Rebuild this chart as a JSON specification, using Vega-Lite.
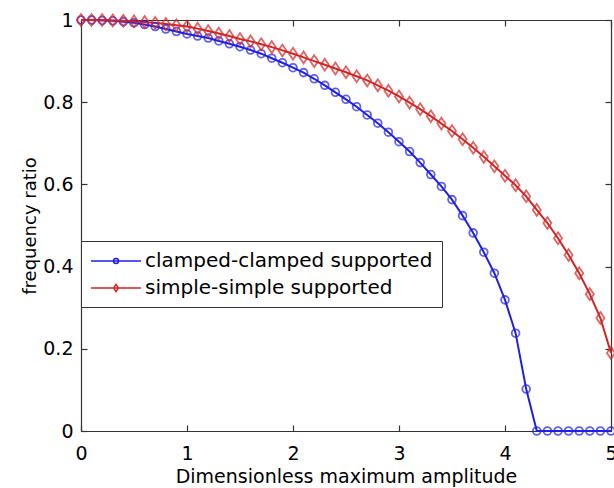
{
  "$schema": "https://vega.github.io/schema/vega-lite/v6.json",
  "width": 530,
  "height": 411,
  "autosize": {"type": "none"},
  "padding": {"left": 81, "top": 20, "right": 3, "bottom": 57},
  "background": "white",
  "config": {
    "font": "DejaVu Sans",
    "view": {"stroke": null},
    "axis": {
      "grid": false,
      "domainColor": "#333333",
      "domainWidth": 1.2,
      "tickColor": "#333333",
      "tickWidth": 1.2,
      "tickSize": -6,
      "labelColor": "#000000",
      "titleColor": "#000000",
      "labelFont": "DejaVu Sans",
      "labelFontSize": 19,
      "titleFont": "DejaVu Sans",
      "titleFontSize": 19,
      "titleFontWeight": "normal",
      "labelFlush": false,
      "labelOverlap": false
    }
  },
  "data": {
    "values": [
      {"amp": 0.0, "ratio": 1.0, "support": "clamped-clamped supported"},
      {"amp": 0.1, "ratio": 1.0, "support": "clamped-clamped supported"},
      {"amp": 0.2, "ratio": 0.999, "support": "clamped-clamped supported"},
      {"amp": 0.3, "ratio": 0.998, "support": "clamped-clamped supported"},
      {"amp": 0.4, "ratio": 0.996, "support": "clamped-clamped supported"},
      {"amp": 0.5, "ratio": 0.993, "support": "clamped-clamped supported"},
      {"amp": 0.6, "ratio": 0.989, "support": "clamped-clamped supported"},
      {"amp": 0.7, "ratio": 0.984, "support": "clamped-clamped supported"},
      {"amp": 0.8, "ratio": 0.978, "support": "clamped-clamped supported"},
      {"amp": 0.9, "ratio": 0.972, "support": "clamped-clamped supported"},
      {"amp": 1.0, "ratio": 0.966, "support": "clamped-clamped supported"},
      {"amp": 1.1, "ratio": 0.961, "support": "clamped-clamped supported"},
      {"amp": 1.2, "ratio": 0.956, "support": "clamped-clamped supported"},
      {"amp": 1.3, "ratio": 0.949, "support": "clamped-clamped supported"},
      {"amp": 1.4, "ratio": 0.942, "support": "clamped-clamped supported"},
      {"amp": 1.5, "ratio": 0.935, "support": "clamped-clamped supported"},
      {"amp": 1.6, "ratio": 0.927, "support": "clamped-clamped supported"},
      {"amp": 1.7, "ratio": 0.918, "support": "clamped-clamped supported"},
      {"amp": 1.8, "ratio": 0.907, "support": "clamped-clamped supported"},
      {"amp": 1.9, "ratio": 0.896, "support": "clamped-clamped supported"},
      {"amp": 2.0, "ratio": 0.884, "support": "clamped-clamped supported"},
      {"amp": 2.1, "ratio": 0.872, "support": "clamped-clamped supported"},
      {"amp": 2.2, "ratio": 0.857, "support": "clamped-clamped supported"},
      {"amp": 2.3, "ratio": 0.841, "support": "clamped-clamped supported"},
      {"amp": 2.4, "ratio": 0.824, "support": "clamped-clamped supported"},
      {"amp": 2.5, "ratio": 0.807, "support": "clamped-clamped supported"},
      {"amp": 2.6, "ratio": 0.789, "support": "clamped-clamped supported"},
      {"amp": 2.7, "ratio": 0.769, "support": "clamped-clamped supported"},
      {"amp": 2.8, "ratio": 0.749, "support": "clamped-clamped supported"},
      {"amp": 2.9, "ratio": 0.727, "support": "clamped-clamped supported"},
      {"amp": 3.0, "ratio": 0.704, "support": "clamped-clamped supported"},
      {"amp": 3.1, "ratio": 0.68, "support": "clamped-clamped supported"},
      {"amp": 3.2, "ratio": 0.653, "support": "clamped-clamped supported"},
      {"amp": 3.3, "ratio": 0.624, "support": "clamped-clamped supported"},
      {"amp": 3.4, "ratio": 0.595, "support": "clamped-clamped supported"},
      {"amp": 3.5, "ratio": 0.563, "support": "clamped-clamped supported"},
      {"amp": 3.6, "ratio": 0.524, "support": "clamped-clamped supported"},
      {"amp": 3.7, "ratio": 0.482, "support": "clamped-clamped supported"},
      {"amp": 3.8, "ratio": 0.435, "support": "clamped-clamped supported"},
      {"amp": 3.9, "ratio": 0.384, "support": "clamped-clamped supported"},
      {"amp": 4.0, "ratio": 0.319, "support": "clamped-clamped supported"},
      {"amp": 4.1, "ratio": 0.238, "support": "clamped-clamped supported"},
      {"amp": 4.2, "ratio": 0.102, "support": "clamped-clamped supported"},
      {"amp": 4.3, "ratio": 0.0, "support": "clamped-clamped supported"},
      {"amp": 4.4, "ratio": 0.0, "support": "clamped-clamped supported"},
      {"amp": 4.5, "ratio": 0.0, "support": "clamped-clamped supported"},
      {"amp": 4.6, "ratio": 0.0, "support": "clamped-clamped supported"},
      {"amp": 4.7, "ratio": 0.0, "support": "clamped-clamped supported"},
      {"amp": 4.8, "ratio": 0.0, "support": "clamped-clamped supported"},
      {"amp": 4.9, "ratio": 0.0, "support": "clamped-clamped supported"},
      {"amp": 5.0, "ratio": 0.0, "support": "clamped-clamped supported"},
      {"amp": 0.0, "ratio": 1.0, "support": "simple-simple supported"},
      {"amp": 0.1, "ratio": 1.0, "support": "simple-simple supported"},
      {"amp": 0.2, "ratio": 1.0, "support": "simple-simple supported"},
      {"amp": 0.3, "ratio": 0.999, "support": "simple-simple supported"},
      {"amp": 0.4, "ratio": 0.998, "support": "simple-simple supported"},
      {"amp": 0.5, "ratio": 0.997, "support": "simple-simple supported"},
      {"amp": 0.6, "ratio": 0.995, "support": "simple-simple supported"},
      {"amp": 0.7, "ratio": 0.993, "support": "simple-simple supported"},
      {"amp": 0.8, "ratio": 0.99, "support": "simple-simple supported"},
      {"amp": 0.9, "ratio": 0.987, "support": "simple-simple supported"},
      {"amp": 1.0, "ratio": 0.984, "support": "simple-simple supported"},
      {"amp": 1.1, "ratio": 0.979, "support": "simple-simple supported"},
      {"amp": 1.2, "ratio": 0.973, "support": "simple-simple supported"},
      {"amp": 1.3, "ratio": 0.967, "support": "simple-simple supported"},
      {"amp": 1.4, "ratio": 0.961, "support": "simple-simple supported"},
      {"amp": 1.5, "ratio": 0.954, "support": "simple-simple supported"},
      {"amp": 1.6, "ratio": 0.948, "support": "simple-simple supported"},
      {"amp": 1.7, "ratio": 0.941, "support": "simple-simple supported"},
      {"amp": 1.8, "ratio": 0.934, "support": "simple-simple supported"},
      {"amp": 1.9, "ratio": 0.926, "support": "simple-simple supported"},
      {"amp": 2.0, "ratio": 0.918, "support": "simple-simple supported"},
      {"amp": 2.1, "ratio": 0.909, "support": "simple-simple supported"},
      {"amp": 2.2, "ratio": 0.9, "support": "simple-simple supported"},
      {"amp": 2.3, "ratio": 0.891, "support": "simple-simple supported"},
      {"amp": 2.4, "ratio": 0.882, "support": "simple-simple supported"},
      {"amp": 2.5, "ratio": 0.873, "support": "simple-simple supported"},
      {"amp": 2.6, "ratio": 0.863, "support": "simple-simple supported"},
      {"amp": 2.7, "ratio": 0.853, "support": "simple-simple supported"},
      {"amp": 2.8, "ratio": 0.841, "support": "simple-simple supported"},
      {"amp": 2.9, "ratio": 0.828, "support": "simple-simple supported"},
      {"amp": 3.0, "ratio": 0.814, "support": "simple-simple supported"},
      {"amp": 3.1, "ratio": 0.799, "support": "simple-simple supported"},
      {"amp": 3.2, "ratio": 0.783, "support": "simple-simple supported"},
      {"amp": 3.3, "ratio": 0.766, "support": "simple-simple supported"},
      {"amp": 3.4, "ratio": 0.748, "support": "simple-simple supported"},
      {"amp": 3.5, "ratio": 0.73, "support": "simple-simple supported"},
      {"amp": 3.6, "ratio": 0.71, "support": "simple-simple supported"},
      {"amp": 3.7, "ratio": 0.689, "support": "simple-simple supported"},
      {"amp": 3.8, "ratio": 0.667, "support": "simple-simple supported"},
      {"amp": 3.9, "ratio": 0.644, "support": "simple-simple supported"},
      {"amp": 4.0, "ratio": 0.621, "support": "simple-simple supported"},
      {"amp": 4.1, "ratio": 0.598, "support": "simple-simple supported"},
      {"amp": 4.2, "ratio": 0.571, "support": "simple-simple supported"},
      {"amp": 4.3, "ratio": 0.538, "support": "simple-simple supported"},
      {"amp": 4.4, "ratio": 0.506, "support": "simple-simple supported"},
      {"amp": 4.5, "ratio": 0.469, "support": "simple-simple supported"},
      {"amp": 4.6, "ratio": 0.428, "support": "simple-simple supported"},
      {"amp": 4.7, "ratio": 0.384, "support": "simple-simple supported"},
      {"amp": 4.8, "ratio": 0.333, "support": "simple-simple supported"},
      {"amp": 4.9, "ratio": 0.275, "support": "simple-simple supported"},
      {"amp": 5.0, "ratio": 0.19, "support": "simple-simple supported"}
    ]
  },
  "layer": [
    {
      "mark": {"type": "line", "strokeWidth": 2, "clip": false},
      "encoding": {
        "x": {
          "field": "amp",
          "type": "quantitative",
          "scale": {"domain": [0, 5], "nice": false, "zero": false},
          "axis": {
            "orient": "bottom",
            "values": [0, 1, 2, 3, 4, 5],
            "title": "Dimensionless maximum amplitude",
            "labelPadding": 19,
            "titlePadding": 4
          }
        },
        "y": {
          "field": "ratio",
          "type": "quantitative",
          "scale": {"domain": [0, 1], "nice": false},
          "axis": {
            "orient": "left",
            "values": [0, 0.2, 0.4, 0.6, 0.8, 1],
            "format": "~g",
            "title": "frequency ratio",
            "titleFontSize": 18,
            "labelPadding": 14,
            "titlePadding": 3
          }
        },
        "color": {
          "field": "support",
          "type": "nominal",
          "scale": {
            "domain": ["clamped-clamped supported", "simple-simple supported"],
            "range": ["#1f1fe6", "#d42424"]
          },
          "legend": {
            "title": null,
            "orient": "none",
            "legendX": 0,
            "legendY": 221,
            "padding": 9,
            "strokeColor": "#333333",
            "fillColor": "white",
            "labelFont": "DejaVu Sans",
            "labelFontSize": 20,
            "labelColor": "#000000",
            "labelLimit": 600,
            "symbolSize": 400,
            "symbolStrokeWidth": 1.5,
            "symbolOffset": 15,
            "labelOffset": 18,
            "rowPadding": 6,
            "encode": {
              "symbols": {
                "update": {
                  "shape": {"signal": "datum.value === 'clamped-clamped supported' ? 'M-2.5,0H2.5M-0.25,0A0.25,0.25 0 1,1 0.25,0A0.25,0.25 0 1,1 -0.25,0' : 'M-2.5,0H2.5M0,-0.36L0.24,0L0,0.36L-0.24,0Z'"},
                  "fill": {"value": "transparent"},
                  "strokeWidth": {"value": 1.5}
                }
              }
            }
          }
        }
      }
    },
    {
      "transform": [{"filter": "datum.support === 'clamped-clamped supported'"}],
      "mark": {"type": "point", "shape": "circle", "filled": false, "size": 60, "strokeWidth": 1.8, "color": "#1f1fe6", "clip": false},
      "encoding": {
        "x": {
          "field": "amp",
          "type": "quantitative",
          "axis": {"orient": "top", "values": [0, 1, 2, 3, 4, 5], "labels": false, "title": null}
        },
        "y": {
          "field": "ratio",
          "type": "quantitative",
          "axis": {"orient": "right", "values": [0, 0.2, 0.4, 0.6, 0.8, 1], "labels": false, "title": null}
        }
      }
    },
    {
      "transform": [{"filter": "datum.support === 'simple-simple supported'"}],
      "mark": {"type": "point", "shape": "M0,-1.25L0.85,0L0,1.25L-0.85,0Z", "filled": false, "size": 90, "strokeWidth": 1.8, "color": "#d42424", "clip": false},
      "encoding": {
        "x": {"field": "amp", "type": "quantitative", "axis": null},
        "y": {"field": "ratio", "type": "quantitative", "axis": null}
      }
    }
  ],
  "resolve": {"axis": {"x": "independent", "y": "independent"}}
}
